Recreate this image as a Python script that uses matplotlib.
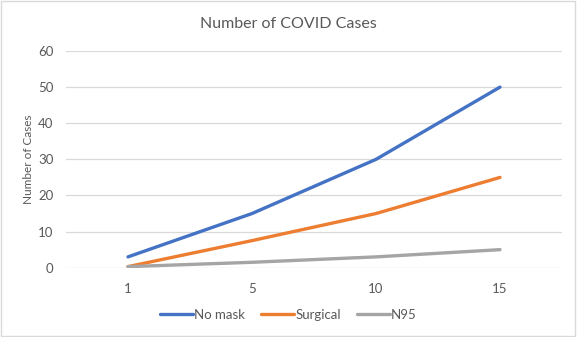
import matplotlib.pyplot as plt
import numpy as np

plt.rcParams['font.family'] = ['Lato', 'DejaVu Sans']

# Data
days = ['1', '5', '10', '15']
no_mask = [3, 15, 30, 50]
surgical = [0.3, 7.5, 15, 25]
n95 = [0.3, 1.5, 3, 5]

series = [('No mask', no_mask, '#4472C4'),
          ('Surgical', surgical, '#ED7D31'),
          ('N95', n95, '#A5A5A5')]

fig = plt.figure(figsize=(5.77, 3.37), dpi=100)
ax = fig.add_axes([0.1144, 0.2056, 0.8596, 0.6431])

x = np.arange(len(days))
for name, vals, color in series:
    ax.plot(x, vals, color=color, linewidth=2.4, label=name, solid_capstyle='round')

ax.set_xlim(-0.5, len(days) - 0.5)
ax.set_ylim(0, 60)
ax.set_yticks(range(0, 61, 10))
ax.set_xticks(x)
ax.set_xticklabels(days)
ax.grid(axis='y', color='#D9D9D9', linewidth=0.9)
ax.set_axisbelow(True)
for s in ax.spines.values():
    s.set_visible(False)
ax.tick_params(length=0, labelsize=9.5, colors='#595959', pad=9)
ax.tick_params(axis='x', pad=11)

ax.set_ylabel('Number of Cases', fontsize=8.5, color='#595959', labelpad=3)
fig.text(0.5, 0.93, 'Number of COVID Cases', ha='center', va='center',
         fontsize=11.5, color='#595959')

fig.legend(loc='center', bbox_to_anchor=(0.5, 0.065), ncol=3, frameon=False,
           fontsize=9.5, handlelength=2.5, handletextpad=0.1, columnspacing=1.2,
           labelcolor='#595959')

# light border around the chart area
fig.patches.append(plt.Rectangle((0.002, 0.003), 0.995, 0.994, transform=fig.transFigure,
                                 fill=False, edgecolor='#D9D9D9', linewidth=1))

fig.savefig('out.png', dpi=100)
